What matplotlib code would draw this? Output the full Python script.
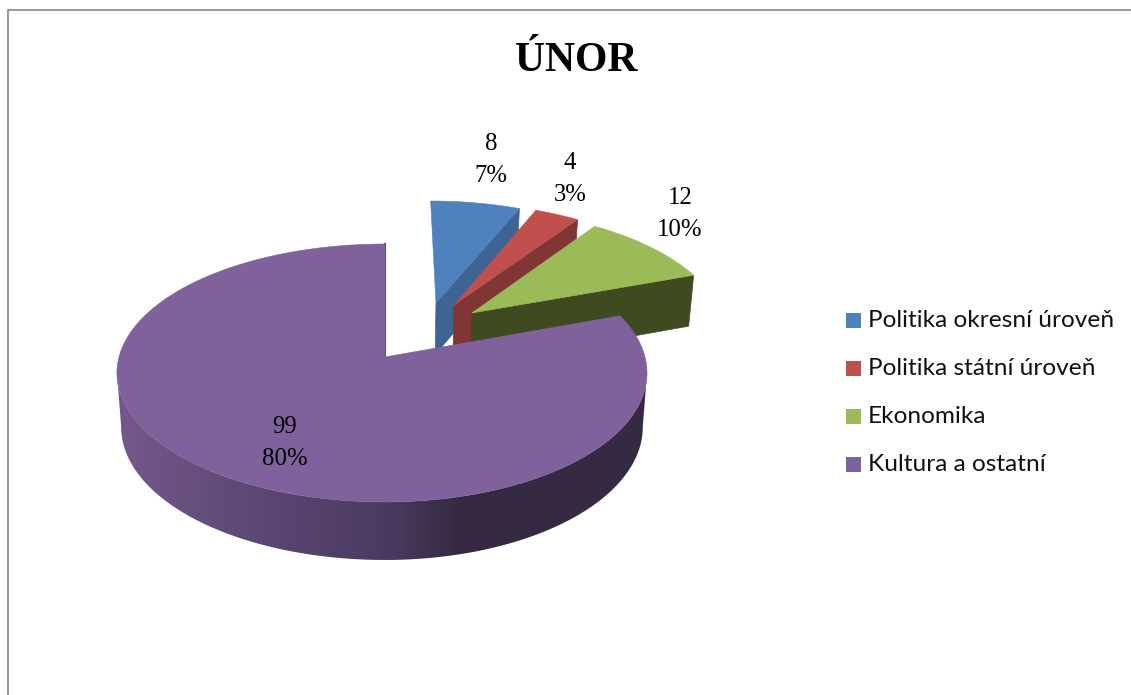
import numpy as np
import matplotlib
matplotlib.use('Agg')
import matplotlib.pyplot as plt
from matplotlib.patches import Polygon, Rectangle

title = 'ÚNOR'
categories = ['Politika okresní úroveň', 'Politika státní úroveň', 'Ekonomika', 'Kultura a ostatní']
values = [8, 4, 12, 99]
colors = ['#4F81BD', '#C0504D', '#9BBB59', '#7F619C']
wall_colors = ['#3E6493', '#7F3634', '#3F4A21', '#4F3D63']

# how far each slice is pulled out, on the flat disc (u right, v away)
offsets = [(0.207, 0.449), (0.28, 0.431), (0.349, 0.362), (0.0, 0.0)]
label_pos = [(491, 160), (570, 179), (680, 214), (285, 443)]

# gradient of the round wall, by x in pixels
wall_x = [120, 250, 385, 460, 640]
wall_rgb = np.array([[0x73, 0x58, 0x8C], [0x5E, 0x48, 0x75], [0x4B, 0x3A, 0x60], [0x35, 0x2A, 0x42], [0x35, 0x2A, 0x42]]) / 255


def project(u, v):
    # flat disc to screen, with a bit of perspective
    w = 1 + 0.124 * v
    a = np.where(u < 0, 266, 260)
    return 385 + a * u / w, 357 - 127 * v / w


def drop(x, y):
    # same point on the underside of the pie
    return 382 + 0.984 * (x - 382), y + 51 + (y - 276) * 7 / 226


def arc(offset, start, end, n=200):
    t = np.radians(np.linspace(start, end, n))
    return project(offset[0] + np.sin(t), offset[1] + np.cos(t))


fig = plt.figure(figsize=(11.31, 6.95), dpi=100)
ax = fig.add_axes([0, 0, 1, 1])
ax.axis('off')

# frame, only top and left show up
ax.plot([7.5, 7.5, 1131], [695, 9.5, 9.5], color='#868686', lw=1.2, solid_joinstyle='miter')

total = sum(values)
angles = np.cumsum([0] + values) / total * 360

for i in range(len(values)):
    start, end = angles[i], angles[i + 1]
    ax_, ay_ = project(offsets[i][0], offsets[i][1])
    x, y = arc(offsets[i], start, end)
    bx, by = drop(x, y)
    abx, aby = drop(ax_, ay_)

    if i < 3:
        # cut face on the right side of the slice
        wall = [(ax_, ay_), (x[-1], y[-1]), (bx[-1], by[-1]), (abx, aby)]
        ax.add_patch(Polygon(wall, closed=True, fc=wall_colors[i], ec=wall_colors[i], lw=0.5))
    else:
        # round wall of the big slice, between the widest points (97 and 263 deg)
        fx, fy = arc(offsets[i], 97, 263)
        fbx, fby = drop(fx, fy)
        gx = np.linspace(100, 660, 560)
        grad = np.stack([np.interp(gx, wall_x, wall_rgb[:, j]) for j in range(3)], axis=1)[None, :, :]
        im = ax.imshow(grad, extent=(100, 660, 580, 350), aspect='auto', interpolation='bilinear', zorder=1)
        shape = np.column_stack([np.r_[fx, fbx[::-1]], np.r_[fy, fby[::-1]]])
        clip = Polygon(shape, closed=True, transform=ax.transData, fc='none', ec='none')
        ax.add_patch(clip)
        im.set_clip_path(clip)
        ax.plot([ax_, x[-1]], [ay_, y[-1]], color='#5F4A78', lw=1.5, zorder=1.5)

    top = np.column_stack([np.r_[ax_, x], np.r_[ay_, y]])
    ax.add_patch(Polygon(top, closed=True, fc=colors[i], ec=colors[i], lw=0.4, zorder=1 + 0.1 * i if i < 3 else 2))

ax.set_xlim(0, 1131)
ax.set_ylim(695, 0)

ax.text(576, 71, title, family='Liberation Serif', weight='bold', fontsize=30, ha='center', va='baseline', color='black')

for i in range(len(values)):
    pct = round(values[i] / total * 100)
    ax.text(label_pos[i][0], label_pos[i][1], f'{values[i]}\n{pct}%', family='Liberation Serif', fontsize=17.8,
            ha='center', va='center', linespacing=1.55, color='black', zorder=5)

for i in range(len(categories)):
    yy = 320.5 + 48 * i
    ax.add_patch(Rectangle((846, yy - 7.5), 15, 15, fc=colors[i], ec='none'))
    ax.text(868, yy, categories[i], family='Lato', fontsize=17.6, ha='left', va='center', color='#111111')

fig.savefig('out.png', dpi=100)
